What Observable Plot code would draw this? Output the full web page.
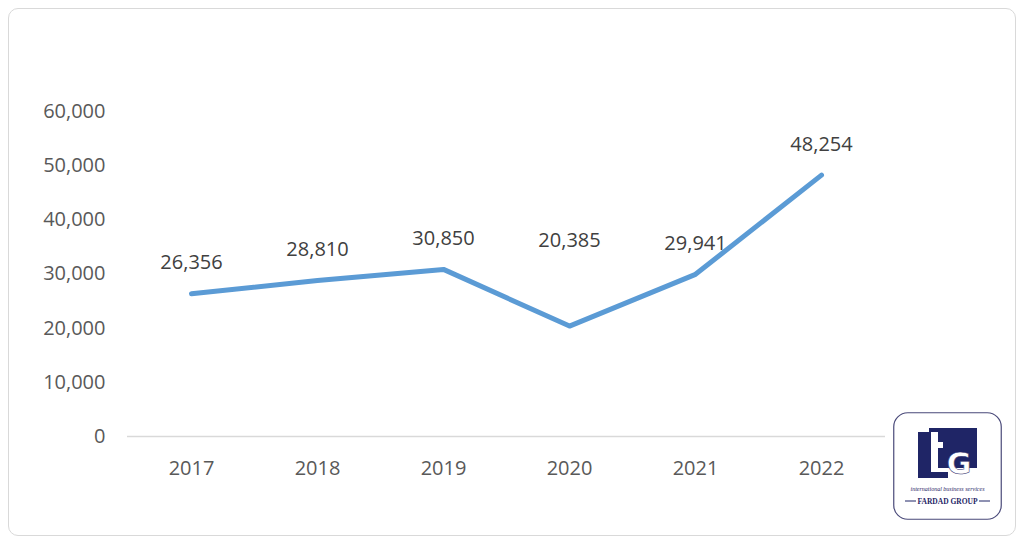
<!DOCTYPE html>
<html>
<head>
<meta charset="utf-8">
<script src="https://cdn.jsdelivr.net/npm/d3@7"></script>
<script src="https://cdn.jsdelivr.net/npm/@observablehq/plot@0.6"></script>
<style>
  html, body { margin: 0; padding: 0; background: #fff; }
  #wrap { position: relative; width: 1024px; height: 544px; overflow: hidden; }
  #frame { position: absolute; left: 8px; top: 8px; width: 1008px; height: 528px;
           border: 1.5px solid #d9d9d9; border-radius: 10px; box-sizing: border-box; }
  #chart { position: absolute; left: 0; top: 0; }
  #logo { position: absolute; left: 893px; top: 412px; }
</style>
</head>
<body>
<div id="wrap">
  <div id="frame"></div>
  <div id="chart"></div>
  <svg id="logo" width="109" height="109" viewBox="0 0 109 109">
    <rect x="0.75" y="0.75" width="107.5" height="106.5" rx="14" fill="#fff" stroke="#4a4a7a" stroke-width="1.2"/>
    <rect x="36" y="16" width="48" height="40" fill="#1f2566"/>
    <rect x="25" y="20" width="13" height="40" fill="#1f2566"/>
    <rect x="25" y="60" width="30" height="6" fill="#1f2566"/>
    <rect x="38" y="20" width="7" height="36" fill="#fff"/>
    <rect x="38" y="30" width="12" height="6" fill="#fff"/>
    <text x="66" y="62" text-anchor="middle" font-family="DejaVu Sans" font-weight="bold" font-size="30" fill="#fff" stroke="#1f2566" stroke-width="0.5">G</text>
    <text x="54.5" y="79" text-anchor="middle" font-family="'Liberation Serif'" font-style="italic" font-size="6" fill="#1f2566">international business services</text>
    <line x1="12" y1="89" x2="23" y2="89" stroke="#1f2566" stroke-width="1"/>
    <line x1="86" y1="89" x2="97" y2="89" stroke="#1f2566" stroke-width="1"/>
    <text x="54.5" y="92" text-anchor="middle" font-family="'Liberation Serif'" font-weight="bold" font-size="7.5" fill="#1f2566">FARDAD GROUP</text>
  </svg>
</div>
<script>
const years = ["2017", "2018", "2019", "2020", "2021", "2022"];
const values = [26356, 28810, 30850, 20385, 29941, 48254];
const yTicks = [0, 10000, 20000, 30000, 40000, 50000, 60000];

const data = years.map((y, i) => ({year: y, value: values[i]}));
const fmt = d3.format(",");

const chart = Plot.plot({
  width: 1024,
  height: 544,
  marginLeft: 127,
  marginRight: 139,
  marginTop: 111,
  marginBottom: 108,
  style: {fontFamily: "'Open Sans', sans-serif", fontSize: "20px", color: "#595959", background: "transparent", overflow: "visible"},
  x: {type: "point", domain: years, padding: 0.5, label: null},
  y: {domain: [0, 60000], label: null},
  marks: [
    Plot.axisY({ticks: yTicks, tickFormat: fmt, tickSize: 0, tickPadding: 22, fontSize: 20, fill: "#595959"}),
    Plot.axisX({tickSize: 0, tickPadding: 24, fontSize: 20, fill: "#595959"}),
    Plot.ruleY([0], {stroke: "#d9d9d9", strokeWidth: 1.5}),
    Plot.line(data, {x: "year", y: "value", stroke: "#5b9bd5", strokeWidth: 5, strokeLinejoin: "round", strokeLinecap: "round"}),
    Plot.text(data.filter(d => d.year !== "2020"), {x: "year", y: "value", text: d => fmt(d.value), dy: -31, fill: "#404040", fontSize: 20}),
    Plot.text(data.filter(d => d.year === "2020"), {x: "year", y: "value", text: d => fmt(d.value), dy: -85, fill: "#404040", fontSize: 20})
  ]
});
document.getElementById("chart").appendChild(chart);
</script>
</body>
</html>
